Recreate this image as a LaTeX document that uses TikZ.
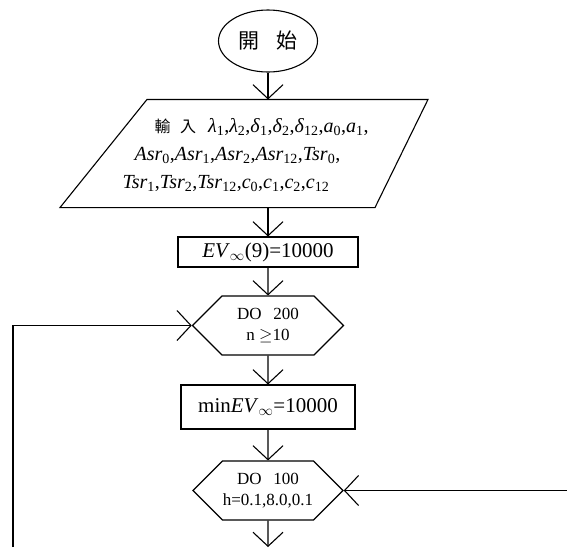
\documentclass[tikz,border=0pt]{standalone}
\usepackage{fontspec}
\setmainfont{Liberation Serif}
\newfontfamily\cjk{Noto Sans CJK TC}
\usetikzlibrary{arrows.meta,shapes.geometric,shapes.symbols}
\newcommand{\sbs}[1]{\textsubscript{#1}}
\begin{document}
\begin{tikzpicture}[x=1pt,y=-1pt,line width=1.1pt,
  arr/.style={-{Straight Barb[length=14pt,width=30pt]}},
  box/.style={draw,rectangle,inner sep=0pt},
  hexa/.style={draw,signal,signal to=east and west,signal pointer angle=90,inner sep=0pt,align=center,font=\fontsize{17}{21}\selectfont},
  txt/.style={inner sep=0pt,anchor=base west,font=\fontsize{20}{24}\selectfont}]
\useasboundingbox (0,0) rectangle (567,547);
\node[draw,ellipse,minimum width=99pt,minimum height=62pt,inner sep=0pt,font=\cjk\fontsize{21}{24}\selectfont] (start) at (268,41) {開\hspace{0.8em}始};
\node[rectangle,minimum width=200pt,minimum height=107pt,inner sep=0pt] (in) at (268,153.5) {};
\draw ([xshift=-121pt]in.north) -- ([xshift=160pt]in.north) -- ([xshift=107pt]in.south) -- ([xshift=-208pt]in.south) -- cycle;
\node[txt] (l1) at (154,132) {{\cjk\fontsize{16}{20}\selectfont 輸\hspace{0.6em}入}\hspace{0.6em}\textit{λ}\sbs{1},\textit{λ}\sbs{2},\textit{δ}\sbs{1},\textit{δ}\sbs{2},\textit{δ}\sbs{12},\textit{a}\sbs{0},\textit{a}\sbs{1},};
\node[txt] (l2) at (134,160) {\textit{Asr}\sbs{0},\textit{Asr}\sbs{1},\textit{Asr}\sbs{2},\textit{Asr}\sbs{12},\textit{Tsr}\sbs{0},};
\node[txt] (l3) at (122,188) {\textit{Tsr}\sbs{1},\textit{Tsr}\sbs{2},\textit{Tsr}\sbs{12},\textit{c}\sbs{0},\textit{c}\sbs{1},\textit{c}\sbs{2},\textit{c}\sbs{12}};
\node[box,minimum width=180pt,minimum height=30pt,font=\fontsize{21}{24}\selectfont] (ev) at (268,252) {\textit{EV}\sbs{$\infty$}(9)=10000};
\node[hexa,minimum width=151pt,minimum height=59pt] (d2) at (268,325.5) {DO\hspace{0.7em}200\\n $\geq$10};
\node[box,minimum width=174pt,minimum height=44pt,font=\fontsize{21}{24}\selectfont] (mb) at (268,407) {min\textit{EV}\sbs{$\infty$}=10000};
\node[hexa,minimum width=150pt,minimum height=59pt] (d1) at (268,490.5) {DO\hspace{0.7em}100\\h=0.1,8.0,0.1};
\coordinate (L) at (13,547);
\coordinate (R) at (567,490.5);
\coordinate (B) at (268,547);
\draw[arr] (start.south) -- (in.north);
\draw[arr] (in.south) -- (ev.north);
\draw[arr] (ev) -- (d2);
\draw[arr] (d2) -- (mb);
\draw[arr] (mb) -- (d1);
\draw[arr] (d1) -- (B);
\draw[arr] (L) |- (d2.west);
\draw[arr] (R) -- (d1.east);
\end{tikzpicture}
\end{document}
